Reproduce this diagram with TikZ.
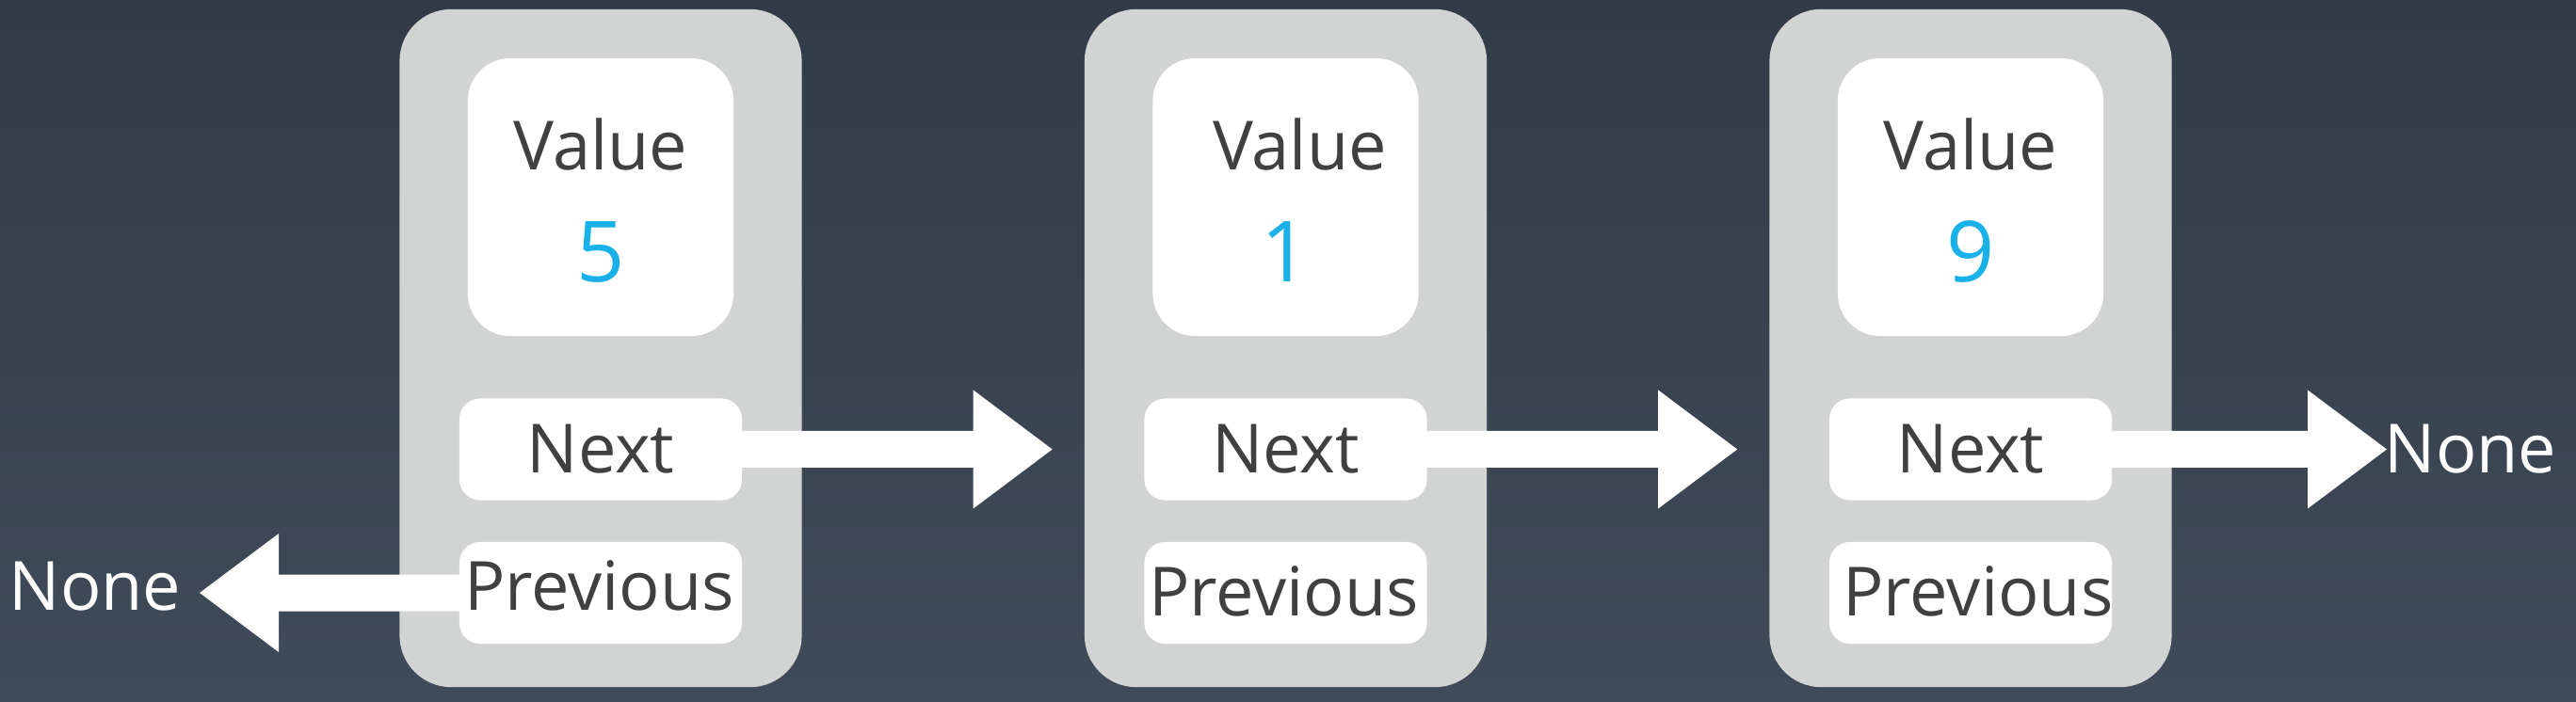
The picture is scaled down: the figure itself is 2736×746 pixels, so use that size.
\documentclass[tikz,border=0pt]{standalone}
\usepackage{fontspec}
\setmainfont{Open Sans}
\usetikzlibrary{calc}
\definecolor{bgtop}{HTML}{323B47}
\definecolor{bgbot}{HTML}{404B59}
\definecolor{cellgray}{HTML}{D2D4D3}
\definecolor{labelgray}{HTML}{404040}
\definecolor{valueblue}{HTML}{1AB0E8}

% fat white arrow: from, tip, signed head length
\newcommand{\fatarrow}[3]{%
  \fill[white] ($(#1)+(0,-19.5)$) -- ($(#2)+({-(#3)},-19.5)$) -- ($(#2)+({-(#3)},-63)$)
    -- (#2) -- ($(#2)+({-(#3)},63)$) -- ($(#2)+({-(#3)},19.5)$) -- ($(#1)+(0,19.5)$) -- cycle;}

\begin{document}
\begin{tikzpicture}[x=0.01cm,y=-0.01cm,
  cell/.style={fill=cellgray,rounded corners=0.55cm,minimum width=4.27cm,minimum height=7.2cm,inner sep=0pt},
  valbox/.style={fill=white,rounded corners=0.45cm,minimum width=2.82cm,minimum height=2.95cm,inner sep=0pt},
  ptrbox/.style={fill=white,rounded corners=0.22cm,minimum width=3cm,minimum height=1.08cm,inner sep=0pt},
  lbl/.style={text=labelgray,font=\fontsize{20.5}{24}\selectfont,anchor=base,inner sep=0pt},
  num/.style={text=valueblue,font=\fontsize{25.5}{30}\selectfont,anchor=base,inner sep=0pt},
  nonelbl/.style={text=white,font=\fontsize{20.5}{24}\selectfont,inner sep=0pt}]

  % background
  \useasboundingbox (0,0) rectangle (2736,746);
  \shade[top color=bgtop,bottom color=bgbot] (0,0) rectangle (2736,746);

  % the three list nodes
  \foreach \i/\cx in {1/638,2/1365.5,3/2093}{
    \node[cell] (cell\i) at (\cx,370) {};
    \node[valbox] (val\i) at (\cx,209.5) {};
    \node[ptrbox] (next\i) at (\cx,477.5) {};
    \node[ptrbox] (prev\i) at (\cx,630) {};
  }

  % None at both ends
  \node[nonelbl,anchor=base east] (noneL) at (193,648) {None};
  \node[nonelbl,anchor=base west] (noneR) at (2532,503) {None};

  % pointers
  \coordinate (tip1) at ($(cell2.west |- next1.east)+(-33.5,0)$);
  \coordinate (tip2) at ($(cell3.west |- next2.east)+(-33.5,0)$);
  \coordinate (tip3) at ($(next3.east -| noneR.west)+(3,0)$);
  \coordinate (tip0) at ($(prev1.west -| noneL.east)+(19,0)$);
  \fatarrow{next1.center}{tip1}{84}
  \fatarrow{next2.center}{tip2}{84}
  \fatarrow{next3.center}{tip3}{84}
  \fatarrow{prev1.center}{tip0}{-84}

  % labels
  \foreach \i/\v/\vdx/\pdx/\pby in {1/5/0/-1.5/18,2/1/15/-2/24,3/9/0/8/24}{
    \node[lbl] (vlab\i) at ($(val\i.center)+(\vdx,-28.5)$) {Value};
    \node[num] (vnum\i) at ($(val\i.center)+(0,90.5)$) {\v};
    \node[lbl] (nlab\i) at ($(next\i.center)+(0,25.5)$) {Next};
    \node[lbl] (plab\i) at ($(prev\i.center)+(\pdx,\pby)$) {Previous};
  }
\end{tikzpicture}
\end{document}
